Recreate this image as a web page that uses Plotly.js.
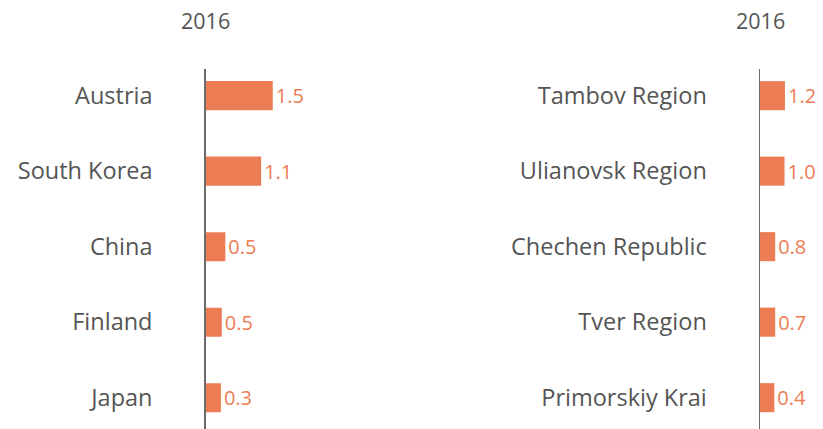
<!DOCTYPE html>
<html>
<head>
<meta charset="utf-8">
<script src="https://cdn.plot.ly/plotly-3.0.1.min.js"></script>
<style>html,body{margin:0;padding:0;background:#fff;}#chart{width:823px;height:429px;}</style>
</head>
<body>
<div id="chart"></div>
<script>
// Left panel: countries
const leftCategories = ["Austria", "South Korea", "China", "Finland", "Japan"];
const leftValues = [1.5, 1.1, 0.5, 0.5, 0.3];           // printed values
const leftBarLengths = [1.5, 1.24, 0.44, 0.36, 0.34];   // bar lengths as drawn
const leftLabels = ["1.5", "1.1", "0.5", "0.5", "0.3"];

// Right panel: Russian regions
const rightCategories = ["Tambov Region", "Ulianovsk Region", "Chechen Republic", "Tver Region", "Primorskiy Krai"];
const rightValues = [1.2, 1.0, 0.8, 0.7, 0.4];
const rightBarLengths = [1.2, 1.18, 0.73, 0.73, 0.69];
const rightLabels = ["1.2", "1.0", "0.8", "0.7", "0.4"];

const yearLabel = "2016";

const barColor = "#EC7C53";
const labelColor = "#EC7C53";
const textGray = "#555555";
const FONT = "'Open Sans', 'Noto Sans', sans-serif";

const W = 823, H = 429;
const axisLeftPx = 205.7, axisRightPx = 760;

const traces = [
  {
    type: "bar", orientation: "h",
    x: leftBarLengths, y: leftCategories,
    text: leftLabels, textposition: "outside", cliponaxis: false,
    textfont: {family: FONT, size: 20, color: labelColor},
    marker: {color: barColor},
    width: 0.385,
    xaxis: "x", yaxis: "y", hoverinfo: "skip"
  },
  {
    type: "bar", orientation: "h",
    x: rightBarLengths, y: rightCategories,
    text: rightLabels, textposition: "outside", cliponaxis: false,
    textfont: {family: FONT, size: 20, color: labelColor},
    marker: {color: barColor},
    width: 0.385,
    xaxis: "x2", yaxis: "y2", hoverinfo: "skip"
  }
];

const yRange = [4.415, -0.353];
const leftDomEnd = (axisLeftPx + 4 * 44.7) / W;

const layout = {
  width: W, height: H,
  margin: {l: 0, r: 0, t: 69, b: 0, pad: 0},
  paper_bgcolor: "#fff", plot_bgcolor: "#fff",
  showlegend: false,
  font: {family: FONT, color: textGray},
  xaxis: {
    domain: [axisLeftPx / W, leftDomEnd], range: [0, 4],
    visible: false, fixedrange: true
  },
  xaxis2: {
    domain: [axisRightPx / W, 1], range: [0, (W - axisRightPx) / 20.8],
    visible: false, fixedrange: true
  },
  yaxis: {
    anchor: "x", type: "category", range: yRange,
    showline: true, linecolor: "#6b6b6b", linewidth: 1.5,
    showgrid: false, zeroline: false,
    ticks: "outside", ticklen: 47, tickcolor: "rgba(0,0,0,0)",
    tickfont: {family: FONT, size: 23.5, color: textGray}
  },
  yaxis2: {
    anchor: "x2", type: "category", range: yRange,
    showline: true, linecolor: "#6b6b6b", linewidth: 1.5,
    showgrid: false, zeroline: false,
    ticks: "outside", ticklen: 47, tickcolor: "rgba(0,0,0,0)",
    tickfont: {family: FONT, size: 23.5, color: textGray}
  },
  annotations: [
    {xref: "x", yref: "paper", x: 0, y: (H - 20) / (H - 69), text: yearLabel,
     showarrow: false, xanchor: "center", yanchor: "middle",
     font: {family: FONT, size: 21.5, color: textGray}},
    {xref: "x2", yref: "paper", x: 0, y: (H - 20) / (H - 69), text: yearLabel,
     showarrow: false, xanchor: "center", yanchor: "middle",
     font: {family: FONT, size: 21.5, color: textGray}}
  ]
};

Plotly.newPlot("chart", traces, layout, {displayModeBar: false, staticPlot: true});
</script>
</body>
</html>
